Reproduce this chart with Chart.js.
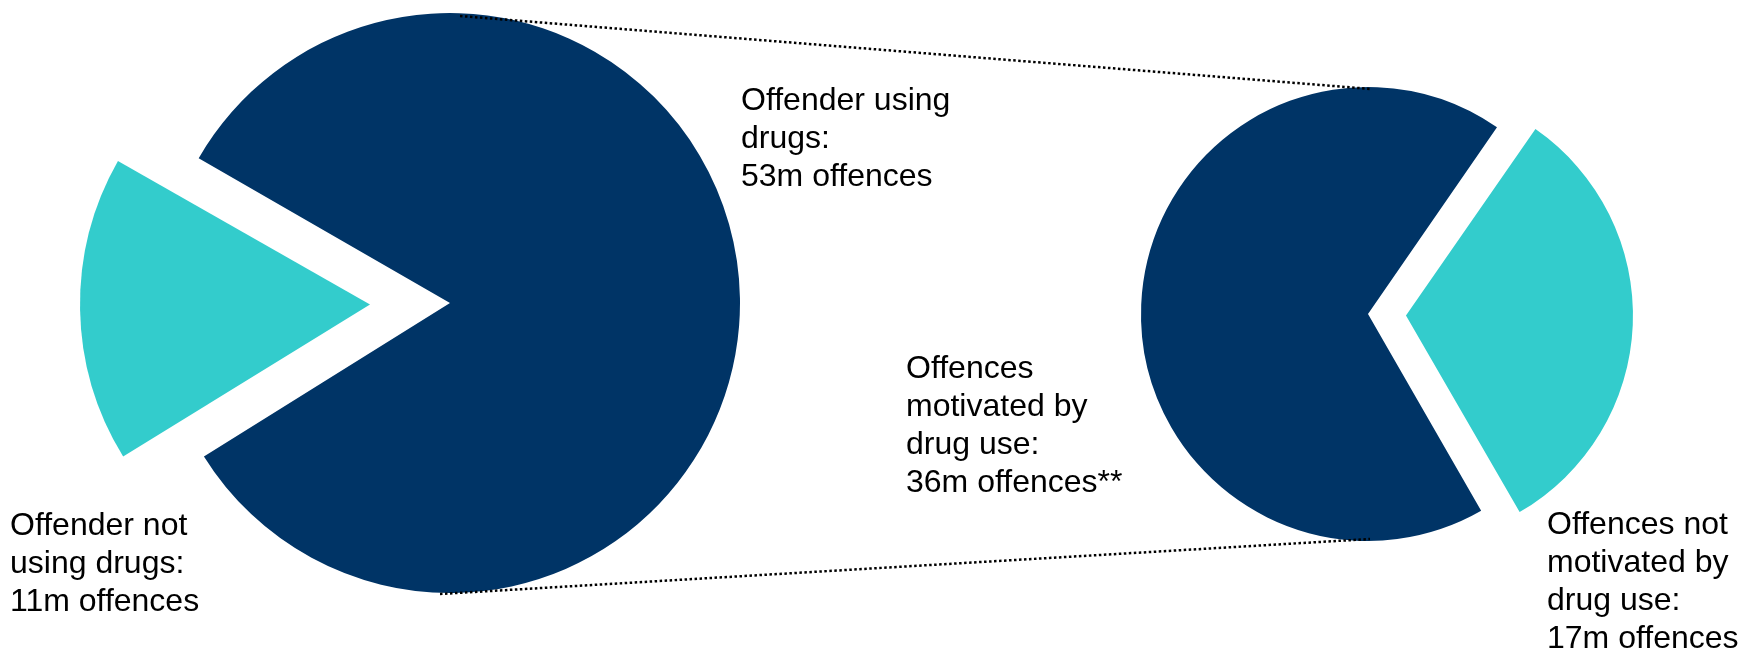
<!DOCTYPE html>
<html>
<head>
<meta charset="utf-8">
<script src="https://cdn.jsdelivr.net/npm/chart.js@4/dist/chart.umd.min.js"></script>
<style>
  html, body { margin: 0; padding: 0; background: #fff; }
  #wrap { position: relative; width: 1741px; height: 651px; overflow: hidden; background: #fff; }
  canvas { position: absolute; left: 0; top: 0; }
  .lbl { position: absolute; font-family: "Liberation Sans", Arial, sans-serif; font-size: 32px;
         line-height: 38px; color: #000; white-space: nowrap; }
</style>
</head>
<body>
<div id="wrap">
  <canvas id="c1" width="1741" height="651"></canvas>
  <canvas id="c2" width="1741" height="651"></canvas>
  <div class="lbl" id="l1" style="left:741px; top:80px;"></div>
  <div class="lbl" id="l2" style="left:10px; top:505px;"></div>
  <div class="lbl" id="l3" style="left:906px; top:348px;"></div>
  <div class="lbl" id="l4" style="left:1547px; top:504px;"></div>
</div>
<script>
// ---- data ----
const leftCategories = ['Offender using drugs', 'Offender not using drugs'];
const leftValues = [53, 11];            // million offences
const rightCategories = ['Offences motivated by drug use', 'Offences not motivated by drug use'];
const rightValues = [36, 17];           // million offences
const labelLines = {
  l1: ['Offender using', 'drugs:', '53m offences'],
  l2: ['Offender not', 'using drugs:', '11m offences'],
  l3: ['Offences', 'motivated by', 'drug use:', '36m offences**'],
  l4: ['Offences not', 'motivated by', 'drug use:', '17m offences']
};

const NAVY = '#003466';
const TEAL = '#33CCCC';

for (const id in labelLines) {
  document.getElementById(id).innerHTML = labelLines[id].join('<br>');
}

// keep exploded slices at the same radius as the rest of the pie
// (Chart.js grows an offset arc's radius slightly when it is exploded)
const equalRadiusPlugin = {
  id: 'equalRadius',
  beforeDatasetsDraw(chart) {
    const meta = chart.getDatasetMeta(0);
    const R = chart.options.radius;
    meta.data.forEach(arc => {
      const off = (arc.options.offset || 0) / 4;
      const fix = 1 - Math.sin(Math.min(Math.PI, arc.circumference || 0));
      arc.outerRadius = R - off * fix;
    });
  }
};

const chart1 = new Chart(document.getElementById('c1'), {
  type: 'pie',
  data: {
    labels: leftCategories,
    datasets: [{
      data: leftValues,
      backgroundColor: [NAVY, TEAL],
      borderWidth: 0,
      offset: [0, 320],
      clip: false
    }]
  },
  options: {
    responsive: false,
    animation: false,
    devicePixelRatio: 1,
    rotation: -60.07,
    radius: 290,
    layout: { padding: { left: 0, right: 841, top: 0, bottom: 45 } },
    plugins: { legend: { display: false }, tooltip: { enabled: false } }
  },
  plugins: [equalRadiusPlugin]
});

const connectorPlugin = {
  id: 'connector',
  afterDatasetsDraw(chart) {
    const a = chart1.getDatasetMeta(0).data[0];
    const b = chart.getDatasetMeta(0).data[0];
    if (!a || !b) return;
    const ctx = chart.ctx;
    ctx.save();
    ctx.strokeStyle = '#000';
    ctx.lineWidth = 2.5;
    ctx.setLineDash([2.5, 2.5]);
    ctx.beginPath();
    ctx.moveTo(a.x + 10, a.y - a.outerRadius + 3);
    ctx.lineTo(b.x + 3, b.y - b.outerRadius + 2);
    ctx.moveTo(a.x - 10, a.y + a.outerRadius + 1);
    ctx.lineTo(b.x + 2, b.y + b.outerRadius - 2);
    ctx.stroke();
    ctx.restore();
  }
};

const chart2 = new Chart(document.getElementById('c2'), {
  type: 'pie',
  data: {
    labels: rightCategories,
    datasets: [{
      data: rightValues,
      backgroundColor: [NAVY, TEAL],
      borderWidth: 0,
      offset: [0, 152],
      clip: false
    }]
  },
  options: {
    responsive: false,
    animation: false,
    devicePixelRatio: 1,
    rotation: 150.1,
    radius: 227,
    layout: { padding: { left: 995, right: 0, top: 0, bottom: 23 } },
    plugins: { legend: { display: false }, tooltip: { enabled: false } }
  },
  plugins: [equalRadiusPlugin, connectorPlugin]
});
</script>
</body>
</html>
